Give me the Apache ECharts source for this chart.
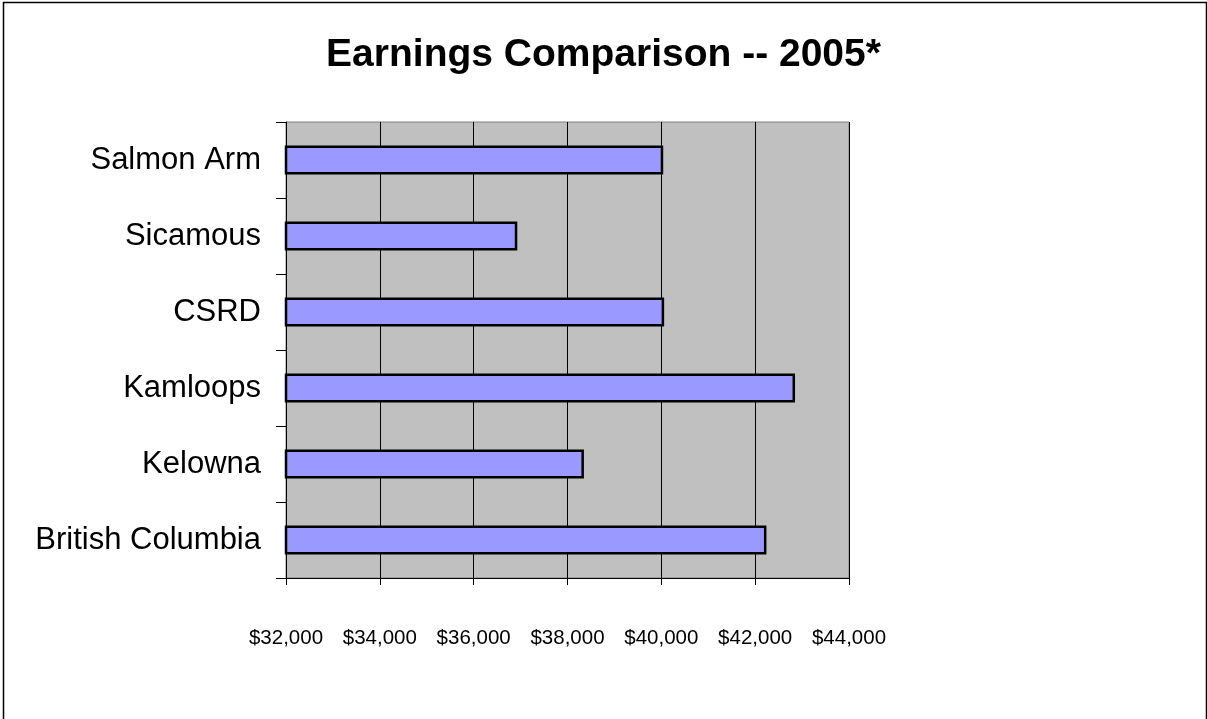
<!DOCTYPE html>
<html>
<head>
<meta charset="utf-8">
<script src="https://cdn.jsdelivr.net/npm/echarts@6/dist/echarts.min.js"></script>
<style>
html,body{margin:0;padding:0;background:#fff;}
#chart{width:1207px;height:719px;}
</style>
</head>
<body>
<div id="chart"></div>
<script>
const titleText = 'Earnings Comparison -- 2005*';
const categories = ['Salmon Arm', 'Sicamous', 'CSRD', 'Kamloops', 'Kelowna', 'British Columbia'];
const earnings = [40040, 36930, 40060, 42850, 38350, 42240];
const axisMin = 32000;
const axisMax = 44000;
const axisStep = 2000;

const chart = echarts.init(document.getElementById('chart'));
const FONT = '"Liberation Sans", Arial, sans-serif';
chart.setOption({
  animation: false,
  backgroundColor: '#ffffff',
  title: {
    text: titleText,
    left: 'center',
    top: 31,
    textStyle: { fontFamily: FONT, fontWeight: 'bold', fontSize: 39, color: '#000' }
  },
  graphic: [{
    type: 'rect',
    shape: { x: 3.5, y: 2.5, width: 1203, height: 730 },
    style: { fill: null, stroke: '#000', lineWidth: 1.5 },
    silent: true
  }],
  grid: {
    left: 286, right: 358, top: 122, bottom: 141,
    show: true,
    backgroundColor: '#c0c0c0',
    borderColor: '#808080',
    borderWidth: 1,
    containLabel: false
  },
  xAxis: {
    type: 'value',
    min: axisMin, max: axisMax, interval: axisStep,
    axisLine: { show: true, lineStyle: { color: '#000', width: 1 } },
    axisTick: { show: true, length: 7, lineStyle: { color: '#000' } },
    splitLine: { show: true, lineStyle: { color: '#000', width: 1 } },
    axisLabel: {
      margin: 50,
      fontFamily: FONT, fontSize: 20.5, color: '#000',
      formatter: v => '$' + v.toLocaleString('en-US')
    }
  },
  yAxis: {
    type: 'category',
    data: categories,
    inverse: true,
    axisLine: { show: true, lineStyle: { color: '#000', width: 1 } },
    axisTick: { show: true, length: 10, lineStyle: { color: '#000' } },
    splitLine: { show: false },
    axisLabel: { margin: 25, fontFamily: FONT, fontSize: 31, color: '#000' }
  },
  series: [{
    type: 'bar',
    data: earnings,
    barWidth: 29,
    itemStyle: { color: '#9999ff', borderColor: '#000', borderWidth: 2.5 }
  }]
});
</script>
</body>
</html>
